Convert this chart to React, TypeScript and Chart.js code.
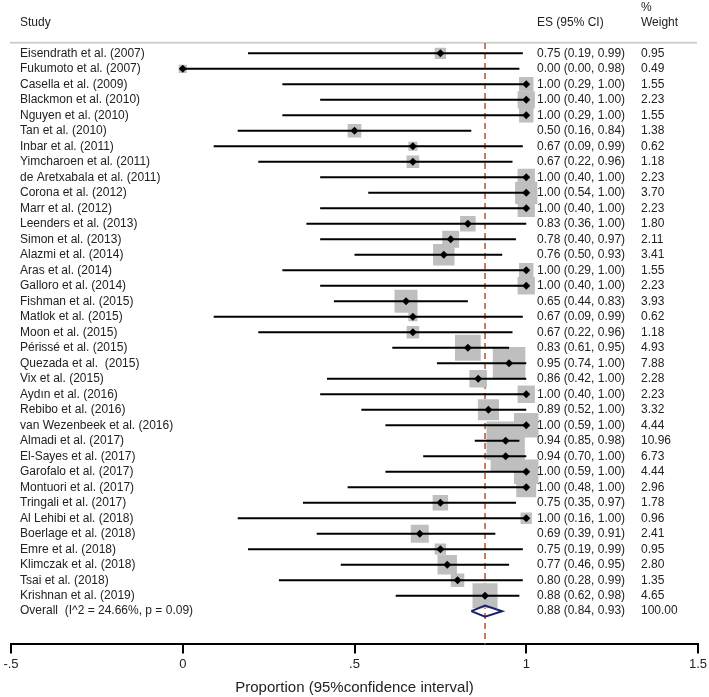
import React, { useEffect, useRef } from "react";
import { Chart, registerables } from "chart.js";

Chart.register(...registerables);

const studies = [
  "Eisendrath et al. (2007)",
  "Fukumoto et al. (2007)",
  "Casella et al. (2009)",
  "Blackmon et al. (2010)",
  "Nguyen et al. (2010)",
  "Tan et al. (2010)",
  "Inbar et al. (2011)",
  "Yimcharoen et al. (2011)",
  "de Aretxabala et al. (2011)",
  "Corona et al. (2012)",
  "Marr et al. (2012)",
  "Leenders et al. (2013)",
  "Simon et al. (2013)",
  "Alazmi et al. (2014)",
  "Aras et al. (2014)",
  "Galloro et al. (2014)",
  "Fishman et al. (2015)",
  "Matlok et al. (2015)",
  "Moon et al. (2015)",
  "Périssé et al. (2015)",
  "Quezada et al.  (2015)",
  "Vix et al. (2015)",
  "Aydın et al. (2016)",
  "Rebibo et al. (2016)",
  "van Wezenbeek et al. (2016)",
  "Almadi et al. (2017)",
  "El-Sayes et al. (2017)",
  "Garofalo et al. (2017)",
  "Montuori et al. (2017)",
  "Tringali et al. (2017)",
  "Al Lehibi et al. (2018)",
  "Boerlage et al. (2018)",
  "Emre et al. (2018)",
  "Klimczak et al. (2018)",
  "Tsai et al. (2018)",
  "Krishnan et al. (2019)",
];

const esValues = [
  0.75, 0.0, 1.0, 1.0, 1.0, 0.5, 0.67, 0.67, 1.0, 1.0, 1.0, 0.83, 0.78, 0.76, 1.0, 1.0, 0.65, 0.67,
  0.67, 0.83, 0.95, 0.86, 1.0, 0.89, 1.0, 0.94, 0.94, 1.0, 1.0, 0.75, 1.0, 0.69, 0.75, 0.77, 0.8, 0.88,
];

const ciLow = [
  0.19, 0.0, 0.29, 0.4, 0.29, 0.16, 0.09, 0.22, 0.4, 0.54, 0.4, 0.36, 0.4, 0.5, 0.29, 0.4, 0.44, 0.09,
  0.22, 0.61, 0.74, 0.42, 0.4, 0.52, 0.59, 0.85, 0.7, 0.59, 0.48, 0.35, 0.16, 0.39, 0.19, 0.46, 0.28, 0.62,
];

const ciHigh = [
  0.99, 0.98, 1.0, 1.0, 1.0, 0.84, 0.99, 0.96, 1.0, 1.0, 1.0, 1.0, 0.97, 0.93, 1.0, 1.0, 0.83, 0.99,
  0.96, 0.95, 1.0, 1.0, 1.0, 1.0, 1.0, 0.98, 1.0, 1.0, 1.0, 0.97, 1.0, 0.91, 0.99, 0.95, 0.99, 0.98,
];

const weights = [
  0.95, 0.49, 1.55, 2.23, 1.55, 1.38, 0.62, 1.18, 2.23, 3.7, 2.23, 1.8, 2.11, 3.41, 1.55, 2.23, 3.93, 0.62,
  1.18, 4.93, 7.88, 2.28, 2.23, 3.32, 4.44, 10.96, 6.73, 4.44, 2.96, 1.78, 0.96, 2.41, 0.95, 2.8, 1.35, 4.65,
];

const overallLabel = "Overall  (I^2 = 24.66%, p = 0.09)";
const overallES = 0.88;
const overallLow = 0.84;
const overallHigh = 0.93;
const overallWeight = 100.0;

const xTicks = [-0.5, 0, 0.5, 1, 1.5];
const xTickLabels = ["-.5", "0", ".5", "1", "1.5"];
const xTitle = "Proportion (95%confidence interval)";

const headerStudy = "Study";
const headerES = "ES (95% CI)";
const headerWeight1 = "%";
const headerWeight2 = "Weight";

// layout / style constants
const W = 709;
const H = 697;
const TOP = 43;
const BOTTOM = 643;
const ROW0 = 53.3;
const STEP = 15.46;
const FONT = "'Liberation Sans', Arial, sans-serif";
const TEXT_COLOR = "#222";
const SQUARE_K = 11.6;
const DIAMOND_HALF = 0.36;

const fmt = (v: number) => v.toFixed(2);

export default function App() {
  const ref = useRef<HTMLCanvasElement | null>(null);

  useEffect(() => {
    const canvas = ref.current;
    if (!canvas) return;
    const n = studies.length;
    const overallRow = n;

    const ciDatasets = studies.map((_, i) => ({
      type: "line" as const,
      data: [
        { x: ciLow[i], y: i },
        { x: ciHigh[i], y: i },
      ],
      borderColor: "#000",
      borderWidth: 2,
      pointRadius: 0,
      showLine: true,
      fill: false,
      order: 3,
    }));

    const textPlugin = {
      id: "forestText",
      beforeDatasetsDraw(chart: any) {
        const ctx = chart.ctx;
        ctx.save();
        ctx.strokeStyle = "#cfcfcf";
        ctx.lineWidth = 2;
        ctx.beginPath();
        ctx.moveTo(10, 42.7);
        ctx.lineTo(697, 42.7);
        ctx.stroke();
        ctx.restore();
      },
      afterDatasetsDraw(chart: any) {
        const ctx = chart.ctx;
        const y = chart.scales.y;
        ctx.save();
        ctx.fillStyle = TEXT_COLOR;
        ctx.font = `12px ${FONT}`;
        ctx.textBaseline = "middle";
        ctx.textAlign = "left";
        ctx.fillText(headerStudy, 20, 23);
        ctx.fillText(headerES, 537, 23);
        ctx.fillText(headerWeight1, 641, 8);
        ctx.fillText(headerWeight2, 641, 23);
        studies.forEach((s, i) => {
          const py = y.getPixelForValue(i);
          ctx.fillText(s, 20, py);
          ctx.fillText(`${fmt(esValues[i])} (${fmt(ciLow[i])}, ${fmt(ciHigh[i])})`, 537, py);
          ctx.fillText(fmt(weights[i]), 641, py);
        });
        const oy = y.getPixelForValue(overallRow);
        ctx.fillText(overallLabel, 20, oy);
        ctx.fillText(`${fmt(overallES)} (${fmt(overallLow)}, ${fmt(overallHigh)})`, 537, oy);
        ctx.fillText(fmt(overallWeight), 641, oy);
        ctx.restore();
      },
    };

    const yMin = (TOP - ROW0) / STEP;
    const yMax = (BOTTOM - ROW0) / STEP;

    const chart = new Chart(canvas, {
      type: "scatter",
      data: {
        datasets: [
          {
            type: "line",
            data: [
              { x: overallES, y: yMin },
              { x: overallES, y: yMax },
            ],
            borderColor: "#b4532a",
            borderWidth: 1.5,
            borderDash: [6, 4],
            pointRadius: 0,
            fill: false,
            order: 5,
          } as any,
          {
            type: "scatter",
            data: studies.map((_, i) => ({ x: esValues[i], y: i })),
            pointStyle: "rect",
            pointRadius: weights.map((w) => (SQUARE_K * Math.sqrt(w)) / Math.SQRT2),
            pointHoverRadius: weights.map((w) => (SQUARE_K * Math.sqrt(w)) / Math.SQRT2),
            backgroundColor: "#bfbfbf",
            borderWidth: 0,
            order: 4,
          } as any,
          ...(ciDatasets as any[]),
          {
            type: "scatter",
            data: studies.map((_, i) => ({ x: esValues[i], y: i })),
            pointStyle: "rectRot",
            pointRadius: 4,
            backgroundColor: "#000",
            borderColor: "#000",
            borderWidth: 0,
            order: 2,
          } as any,
          {
            type: "line",
            data: [
              { x: overallLow, y: overallRow },
              { x: overallES, y: overallRow - DIAMOND_HALF },
              { x: overallHigh, y: overallRow },
              { x: overallES, y: overallRow + DIAMOND_HALF },
              { x: overallLow, y: overallRow },
            ],
            borderColor: "#1c1f6e",
            borderWidth: 2,
            pointRadius: 0,
            fill: false,
            tension: 0,
            order: 1,
          } as any,
        ],
      },
      options: {
        responsive: false,
        animation: false,
        events: [],
        layout: { autoPadding: false, padding: { left: 11, right: 11, top: TOP, bottom: 0 } },
        plugins: {
          legend: { display: false },
          tooltip: { enabled: false },
        },
        scales: {
          x: {
            type: "linear",
            min: -0.5,
            max: 1.5,
            afterBuildTicks: (axis: any) => {
              axis.ticks = xTicks.map((v) => ({ value: v }));
            },
            afterFit: (axis: any) => {
              axis.paddingLeft = 0;
              axis.paddingRight = 0;
            },
            ticks: {
              autoSkip: false,
              maxRotation: 0,
              padding: 3,
              color: TEXT_COLOR,
              font: { family: FONT, size: 13 },
              callback: (v: any) => {
                const idx = xTicks.indexOf(Number(v));
                return idx >= 0 ? xTickLabels[idx] : "";
              },
            },
            grid: {
              display: true,
              drawOnChartArea: false,
              drawTicks: true,
              tickLength: 9,
              color: "#000",
              lineWidth: 2,
            },
            border: { display: true, color: "#000", width: 2 },
            title: {
              display: true,
              text: xTitle,
              color: TEXT_COLOR,
              font: { family: FONT, size: 15 },
              padding: { top: 4, bottom: 0 },
            },
          },
          y: {
            type: "linear",
            display: false,
            reverse: true,
            min: yMin,
            max: yMax,
          },
        },
      } as any,
      plugins: [textPlugin],
    });

    return () => chart.destroy();
  }, []);

  return (
    <div style={{ position: "fixed", left: 0, top: 0, width: W, height: H, background: "#fff" }}>
      <canvas ref={ref} width={W} height={H} style={{ display: "block", width: W, height: H }} />
    </div>
  );
}
